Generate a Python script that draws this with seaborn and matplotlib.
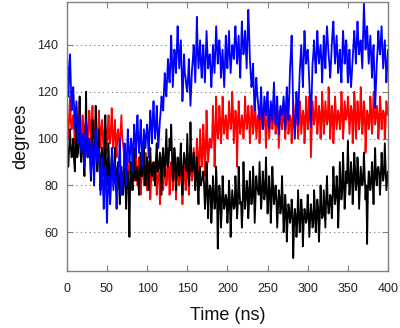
import numpy as np
import pandas as pd
import seaborn as sns
import matplotlib.pyplot as plt

sns.set_theme(style="ticks")
plt.rcParams['font.family'] = ['Liberation Sans', 'DejaVu Sans']

# samples at even and odd nanoseconds
time_even = list(range(0, 401, 2))
time_odd = list(range(1, 400, 2))

# values (degrees), 5 samples per 10 ns
black = [98, 88, 104, 92, 100, 86, 110, 94, 118, 90,
         102, 84, 120, 92, 99, 82, 108, 90, 114, 86,
         104, 78, 96, 84, 110, 80, 98, 74, 92, 84,
         96, 78, 90, 72, 88, 76, 92, 70, 86, 58,
         90, 78, 96, 82, 88, 76, 94, 84, 98, 80,
         92, 78, 96, 84, 90, 80, 98, 86, 94, 76,
         96, 84, 104, 88, 100, 106, 82, 96, 78, 92,
         84, 98, 76, 94, 88, 102, 80, 107, 86, 94,
         78, 92, 72, 88, 82, 86, 70, 90, 66, 80,
         64, 84, 70, 88, 53, 80, 62, 84, 70, 76,
         64, 82, 58, 78, 70, 84, 66, 88, 72, 62,
         90, 70, 82, 66, 86, 72, 88, 64, 84, 78,
         90, 70, 86, 74, 92, 68, 84, 64, 88, 72,
         80, 62, 78, 68, 84, 60, 76, 56, 72, 64,
         74, 49, 70, 58, 78, 60, 74, 54, 70, 64,
         76, 58, 72, 62, 78, 60, 74, 56, 80, 66,
         78, 62, 84, 68, 76, 66, 88, 72, 84, 62,
         90, 74, 94, 70, 86, 99, 76, 90, 72, 94,
         78, 92, 70, 88, 80, 94, 74, 55, 86, 78,
         90, 72, 96, 80, 88, 76, 94, 82, 98, 78,
         86]
black_odd = [93, 97, 96, 95, 91, 99, 92, 101, 94, 97,
             92, 98, 95, 100, 93, 96, 90, 97, 91, 95,
             87, 93, 88, 94, 86, 89, 83, 88, 85, 90,
             81, 87, 80, 86, 83, 84, 79, 85, 78, 83,
             82, 87, 83, 86, 81, 88, 84, 89, 83, 87,
             85, 90, 86, 89, 84, 91, 86, 90, 85, 92,
             88, 94, 89, 92, 95, 93, 87, 91, 86, 89,
             90, 85, 87, 91, 86, 91, 86, 93, 89, 87,
             86, 81, 85, 80, 83, 80, 75, 81, 76, 79,
             72, 77, 73, 78, 70, 75, 70, 76, 72, 74,
             70, 75, 69, 74, 71, 76, 72, 78, 73, 70,
             78, 74, 79, 73, 77, 75, 80, 74, 79, 76,
             80, 76, 81, 77, 79, 74, 78, 73, 79, 75,
             74, 70, 75, 71, 73, 66, 70, 65, 69, 67,
             68, 63, 67, 64, 69, 65, 69, 64, 68, 66,
             69, 65, 68, 64, 70, 66, 70, 65, 71, 67,
             70, 74, 73, 71, 75, 74, 79, 75, 78, 73,
             82, 78, 83, 77, 81, 86, 81, 85, 80, 87,
             81, 85, 79, 84, 82, 84, 80, 78, 83, 81,
             82, 86, 83, 87, 85, 83, 87, 85, 88, 82]

red = [112, 100, 118, 104, 110, 98, 114, 102, 116, 96,
       110, 95, 108, 98, 112, 96, 114, 100, 110, 94,
       112, 96, 108, 92, 106, 94, 110, 98, 113, 96,
       108, 92, 104, 96, 110, 98, 86, 94, 80, 90,
       78, 92, 82, 96, 80, 92, 76, 88, 80, 94,
       78, 90, 74, 88, 82, 90, 76, 86, 72, 92,
       78, 92, 80, 96, 76, 90, 78, 94, 74, 88,
       80, 92, 72, 88, 78, 94, 76, 90, 82, 96,
       84, 100, 78, 104, 88, 106, 84, 112, 90, 100,
       96, 114, 88, 118, 100, 114, 98, 118, 102, 110,
       100, 116, 104, 120, 98, 112, 88, 116, 102, 110,
       100, 118, 104, 114, 98, 114, 102, 120, 100, 110,
       98, 116, 104, 112, 96, 116, 100, 112, 104, 118,
       102, 114, 96, 112, 104, 114, 100, 118, 102, 110,
       98, 116, 104, 114, 100, 116, 102, 112, 98, 118,
       104, 118, 92, 116, 106, 118, 102, 114, 100, 120,
       102, 116, 106, 122, 100, 114, 98, 118, 104, 112,
       104, 120, 100, 116, 108, 118, 102, 114, 98, 120,
       100, 116, 104, 122, 102, 116, 94, 112, 104, 118,
       102, 120, 106, 114, 100, 118, 104, 112, 100, 116,
       110]
red_odd = [106, 110, 107, 108, 105, 104, 108, 105, 109, 103,
           102, 106, 103, 105, 107, 106, 102, 105, 101, 104,
           101, 105, 100, 104, 102, 104, 100, 105, 101, 103,
           98, 102, 99, 103, 101, 94, 90, 91, 86, 88,
           84, 88, 85, 89, 83, 88, 84, 87, 83, 89,
           83, 87, 82, 86, 84, 86, 82, 85, 81, 87,
           82, 86, 83, 88, 85, 87, 83, 88, 82, 86,
           82, 86, 81, 85, 83, 88, 84, 87, 85, 90,
           90, 94, 89, 96, 93, 98, 94, 100, 95, 99,
           100, 105, 99, 106, 103, 108, 104, 109, 105, 107,
           106, 110, 107, 111, 105, 109, 104, 108, 105, 107,
           106, 110, 107, 109, 105, 110, 106, 111, 105, 108,
           105, 109, 106, 108, 104, 110, 106, 109, 107, 111,
           106, 110, 104, 109, 107, 110, 106, 111, 105, 108,
           105, 110, 107, 109, 106, 111, 107, 110, 105, 112,
           108, 112, 104, 111, 109, 112, 107, 111, 106, 113,
           107, 111, 108, 114, 106, 111, 106, 112, 108, 110,
           108, 113, 106, 112, 110, 113, 108, 112, 106, 114,
           106, 111, 108, 114, 107, 112, 104, 110, 107, 113,
           107, 113, 109, 111, 106, 113, 109, 111, 106, 112]

blue = [140, 118, 136, 112, 122, 104, 116, 98, 110, 94,
        102, 88, 108, 92, 100, 84, 98, 80, 104, 90,
        96, 76, 92, 70, 88, 64, 84, 72, 96, 78,
        90, 70, 86, 100, 76, 84, 98, 80, 104, 90,
        100, 86, 106, 92, 110, 94, 108, 88, 104, 96,
        106, 92, 112, 98, 116, 100, 114, 96, 108, 118,
        112, 128, 118, 134, 124, 144, 122, 138, 128, 148,
        130, 142, 116, 136, 126, 120, 134, 114, 130, 140,
        124, 152, 130, 142, 126, 140, 124, 146, 130, 136,
        122, 140, 128, 148, 132, 142, 126, 138, 122, 144,
        130, 146, 128, 140, 134, 148, 132, 144, 126, 150,
        136, 146, 130, 155, 134, 122, 132, 112, 126, 116,
        108, 122, 104, 118, 110, 120, 104, 116, 108, 124,
        106, 118, 102, 114, 110, 118, 104, 122, 108, 130,
        144, 112, 100, 120, 106, 128, 140, 122, 146, 132,
        138, 124, 105, 132, 142, 128, 146, 132, 140, 124,
        144, 130, 148, 136, 126, 140, 150, 132, 144, 128,
        138, 124, 146, 132, 142, 124, 138, 122, 134, 146,
        132, 150, 136, 142, 130, 158, 138, 148, 132, 144,
        126, 140, 113, 132, 146, 136, 148, 130, 142, 124,
        138]
blue_odd = [130, 128, 124, 118, 114, 110, 106, 104, 100, 98,
            96, 100, 97, 99, 95, 92, 88, 93, 94, 92,
            86, 84, 80, 82, 78, 76, 80, 82, 86, 84,
            80, 82, 90, 86, 82, 88, 90, 94, 96, 94,
            96, 98, 100, 102, 100, 100, 98, 96, 100, 102,
            100, 104, 106, 108, 106, 106, 104, 102, 112, 114,
            120, 122, 126, 128, 132, 134, 130, 134, 138, 138,
            136, 130, 124, 128, 122, 126, 124, 122, 134, 132,
            136, 138, 136, 132, 134, 132, 134, 138, 134, 130,
            130, 134, 138, 140, 138, 136, 132, 130, 132, 136,
            138, 136, 134, 138, 142, 140, 138, 134, 138, 142,
            140, 138, 142, 146, 128, 126, 120, 118, 120, 112,
            114, 112, 110, 114, 116, 112, 110, 112, 116, 114,
            110, 108, 108, 112, 114, 112, 114, 114, 118, 136,
            128, 106, 110, 112, 118, 134, 130, 134, 138, 136,
            132, 116, 118, 136, 134, 136, 138, 136, 134, 134,
            138, 140, 142, 132, 132, 146, 140, 138, 136, 134,
            130, 136, 140, 138, 134, 130, 128, 128, 140, 140,
            140, 142, 140, 136, 144, 148, 144, 140, 138, 136,
            134, 128, 122, 138, 140, 142, 138, 136, 134, 130]

series_names = ["red", "black", "blue"]
series_colors = ["#ff0000", "#000000", "#0000ff"]

df = pd.concat([
    pd.DataFrame({"time": time_even, "angle": red, "series": "red"}),
    pd.DataFrame({"time": time_odd, "angle": red_odd, "series": "red"}),
    pd.DataFrame({"time": time_even, "angle": black, "series": "black"}),
    pd.DataFrame({"time": time_odd, "angle": black_odd, "series": "black"}),
    pd.DataFrame({"time": time_even, "angle": blue, "series": "blue"}),
    pd.DataFrame({"time": time_odd, "angle": blue_odd, "series": "blue"}),
])

fig = plt.figure(figsize=(4, 3.28), dpi=100)
ax = fig.add_axes([0.167, 0.174, 0.803, 0.821])

sns.lineplot(data=df, x="time", y="angle", hue="series",
             hue_order=series_names, palette=series_colors,
             estimator=None, sort=True, linewidth=1.3,
             legend=False, ax=ax)

ax.set_xlim(0, 400)
ax.set_ylim(43.5, 158.5)
ax.set_xticks([0, 50, 100, 150, 200, 250, 300, 350, 400])
ax.set_yticks([60, 80, 100, 120, 140])
ax.yaxis.grid(True, linestyle=(0, (1, 3)), color="#777777", linewidth=0.8)
ax.set_axisbelow(True)

for sp in ax.spines.values():
    sp.set_color("#808080")
    sp.set_linewidth(1.0)
    sp.set_visible(True)

ax.tick_params(direction="in", length=4, width=0.8, color="#808080",
               top=True, right=True, labelsize=9, labelcolor="#222222")
ax.tick_params(axis="x", pad=9)
ax.tick_params(axis="y", pad=6)

ax.set_xlabel("Time (ns)", fontsize=13, color="#111111", labelpad=8)
ax.set_ylabel("degrees", fontsize=13, color="#111111", labelpad=6)

fig.savefig("out.png", dpi=100)
